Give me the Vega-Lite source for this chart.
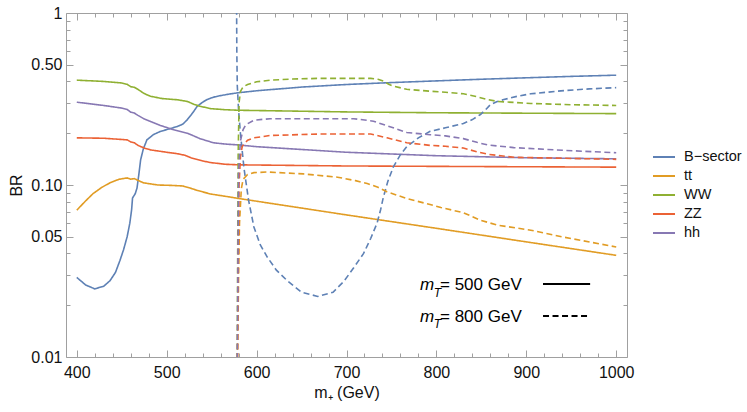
{
  "$schema": "https://vega.github.io/schema/vega-lite/v6.json",
  "width": 561,
  "height": 344,
  "autosize": {"type": "none"},
  "padding": {"left": 66, "top": 13, "right": 120, "bottom": 55},
  "background": "white",
  "config": {
    "font": "Liberation Sans",
    "view": {"stroke": "#a0a0a0", "strokeWidth": 1},
    "axis": {"grid": false, "domain": false, "labelFontSize": 16, "labelColor": "#111111", "titleFontSize": 16, "titleFontWeight": "normal", "titleColor": "#111111", "tickColor": "#a0a0a0", "tickSize": -7, "tickWidth": 1, "labelOverlap": false}
  },
  "datasets": {
    "curves": [
      {"s":"B−sector","m":"500","x":400,"y":0.029},{"s":"B−sector","m":"500","x":410,"y":0.0262},{"s":"B−sector","m":"500","x":420,"y":0.0249},{"s":"B−sector","m":"500","x":430,"y":0.0258},{"s":"B−sector","m":"500","x":437,"y":0.0278},{"s":"B−sector","m":"500","x":443,"y":0.031},{"s":"B−sector","m":"500","x":448,"y":0.0364},{"s":"B−sector","m":"500","x":452,"y":0.042},{"s":"B−sector","m":"500","x":456,"y":0.05},{"s":"B−sector","m":"500","x":459,"y":0.06},{"s":"B−sector","m":"500","x":461,"y":0.072},{"s":"B−sector","m":"500","x":462,"y":0.084},{"s":"B−sector","m":"500","x":465,"y":0.089},{"s":"B−sector","m":"500","x":467,"y":0.096},{"s":"B−sector","m":"500","x":469,"y":0.115},{"s":"B−sector","m":"500","x":471,"y":0.14},{"s":"B−sector","m":"500","x":474,"y":0.162},{"s":"B−sector","m":"500","x":478,"y":0.183},{"s":"B−sector","m":"500","x":485,"y":0.196},{"s":"B−sector","m":"500","x":493,"y":0.205},{"s":"B−sector","m":"500","x":503,"y":0.212},{"s":"B−sector","m":"500","x":512,"y":0.219},{"s":"B−sector","m":"500","x":518,"y":0.226},{"s":"B−sector","m":"500","x":523,"y":0.24},{"s":"B−sector","m":"500","x":529,"y":0.263},{"s":"B−sector","m":"500","x":534,"y":0.287},{"s":"B−sector","m":"500","x":540,"y":0.303},{"s":"B−sector","m":"500","x":545,"y":0.314},{"s":"B−sector","m":"500","x":552,"y":0.324},{"s":"B−sector","m":"500","x":560,"y":0.331},{"s":"B−sector","m":"500","x":570,"y":0.338},{"s":"B−sector","m":"500","x":580,"y":0.344},{"s":"B−sector","m":"500","x":600,"y":0.353},{"s":"B−sector","m":"500","x":650,"y":0.371},{"s":"B−sector","m":"500","x":700,"y":0.384},{"s":"B−sector","m":"500","x":750,"y":0.394},{"s":"B−sector","m":"500","x":800,"y":0.403},{"s":"B−sector","m":"500","x":850,"y":0.412},{"s":"B−sector","m":"500","x":900,"y":0.42},{"s":"B−sector","m":"500","x":950,"y":0.428},{"s":"B−sector","m":"500","x":1000,"y":0.435},

      {"s":"tt","m":"500","x":400,"y":0.0714},{"s":"tt","m":"500","x":410,"y":0.081},{"s":"tt","m":"500","x":418,"y":0.089},{"s":"tt","m":"500","x":428,"y":0.097},{"s":"tt","m":"500","x":437,"y":0.103},{"s":"tt","m":"500","x":447,"y":0.108},{"s":"tt","m":"500","x":456,"y":0.11},{"s":"tt","m":"500","x":460,"y":0.108},{"s":"tt","m":"500","x":464,"y":0.109},{"s":"tt","m":"500","x":467,"y":0.107},{"s":"tt","m":"500","x":474,"y":0.103},{"s":"tt","m":"500","x":490,"y":0.1},{"s":"tt","m":"500","x":505,"y":0.0995},{"s":"tt","m":"500","x":518,"y":0.0987},{"s":"tt","m":"500","x":526,"y":0.096},{"s":"tt","m":"500","x":534,"y":0.093},{"s":"tt","m":"500","x":549,"y":0.0886},{"s":"tt","m":"500","x":565,"y":0.086},{"s":"tt","m":"500","x":580,"y":0.0835},{"s":"tt","m":"500","x":700,"y":0.067},{"s":"tt","m":"500","x":800,"y":0.056},{"s":"tt","m":"500","x":900,"y":0.0467},{"s":"tt","m":"500","x":1000,"y":0.039},

      {"s":"WW","m":"500","x":400,"y":0.407},{"s":"WW","m":"500","x":430,"y":0.4},{"s":"WW","m":"500","x":450,"y":0.392},{"s":"WW","m":"500","x":456,"y":0.385},{"s":"WW","m":"500","x":460,"y":0.373},{"s":"WW","m":"500","x":464,"y":0.37},{"s":"WW","m":"500","x":468,"y":0.36},{"s":"WW","m":"500","x":475,"y":0.34},{"s":"WW","m":"500","x":482,"y":0.328},{"s":"WW","m":"500","x":495,"y":0.318},{"s":"WW","m":"500","x":512,"y":0.313},{"s":"WW","m":"500","x":523,"y":0.306},{"s":"WW","m":"500","x":530,"y":0.295},{"s":"WW","m":"500","x":537,"y":0.287},{"s":"WW","m":"500","x":549,"y":0.278},{"s":"WW","m":"500","x":565,"y":0.274},{"s":"WW","m":"500","x":580,"y":0.272},{"s":"WW","m":"500","x":700,"y":0.266},{"s":"WW","m":"500","x":800,"y":0.263},{"s":"WW","m":"500","x":1000,"y":0.26},

      {"s":"ZZ","m":"500","x":400,"y":0.188},{"s":"ZZ","m":"500","x":430,"y":0.187},{"s":"ZZ","m":"500","x":456,"y":0.183},{"s":"ZZ","m":"500","x":460,"y":0.178},{"s":"ZZ","m":"500","x":464,"y":0.176},{"s":"ZZ","m":"500","x":468,"y":0.17},{"s":"ZZ","m":"500","x":475,"y":0.164},{"s":"ZZ","m":"500","x":482,"y":0.16},{"s":"ZZ","m":"500","x":500,"y":0.155},{"s":"ZZ","m":"500","x":512,"y":0.152},{"s":"ZZ","m":"500","x":520,"y":0.149},{"s":"ZZ","m":"500","x":527,"y":0.144},{"s":"ZZ","m":"500","x":540,"y":0.138},{"s":"ZZ","m":"500","x":549,"y":0.135},{"s":"ZZ","m":"500","x":565,"y":0.132},{"s":"ZZ","m":"500","x":580,"y":0.131},{"s":"ZZ","m":"500","x":700,"y":0.129},{"s":"ZZ","m":"500","x":1000,"y":0.127},

      {"s":"hh","m":"500","x":400,"y":0.303},{"s":"hh","m":"500","x":430,"y":0.29},{"s":"hh","m":"500","x":450,"y":0.28},{"s":"hh","m":"500","x":456,"y":0.275},{"s":"hh","m":"500","x":460,"y":0.265},{"s":"hh","m":"500","x":464,"y":0.262},{"s":"hh","m":"500","x":468,"y":0.254},{"s":"hh","m":"500","x":475,"y":0.242},{"s":"hh","m":"500","x":493,"y":0.222},{"s":"hh","m":"500","x":507,"y":0.21},{"s":"hh","m":"500","x":523,"y":0.2},{"s":"hh","m":"500","x":530,"y":0.193},{"s":"hh","m":"500","x":537,"y":0.186},{"s":"hh","m":"500","x":552,"y":0.176},{"s":"hh","m":"500","x":565,"y":0.173},{"s":"hh","m":"500","x":580,"y":0.171},{"s":"hh","m":"500","x":600,"y":0.167},{"s":"hh","m":"500","x":700,"y":0.155},{"s":"hh","m":"500","x":800,"y":0.148},{"s":"hh","m":"500","x":900,"y":0.144},{"s":"hh","m":"500","x":1000,"y":0.142},

      {"s":"B−sector","m":"800","x":577.5,"y":2.0},{"s":"B−sector","m":"800","x":578,"y":0.6},{"s":"B−sector","m":"800","x":578.5,"y":0.38},{"s":"B−sector","m":"800","x":580,"y":0.27},{"s":"B−sector","m":"800","x":582,"y":0.2},{"s":"B−sector","m":"800","x":586,"y":0.125},{"s":"B−sector","m":"800","x":591,"y":0.082},{"s":"B−sector","m":"800","x":597,"y":0.057},{"s":"B−sector","m":"800","x":604,"y":0.045},{"s":"B−sector","m":"800","x":612,"y":0.038},{"s":"B−sector","m":"800","x":622,"y":0.032},{"s":"B−sector","m":"800","x":634,"y":0.0278},{"s":"B−sector","m":"800","x":650,"y":0.0238},{"s":"B−sector","m":"800","x":668,"y":0.0225},{"s":"B−sector","m":"800","x":685,"y":0.0238},{"s":"B−sector","m":"800","x":697,"y":0.0275},{"s":"B−sector","m":"800","x":708,"y":0.033},{"s":"B−sector","m":"800","x":719,"y":0.04},{"s":"B−sector","m":"800","x":727,"y":0.049},{"s":"B−sector","m":"800","x":734,"y":0.06},{"s":"B−sector","m":"800","x":738,"y":0.072},{"s":"B−sector","m":"800","x":741,"y":0.085},{"s":"B−sector","m":"800","x":746,"y":0.105},{"s":"B−sector","m":"800","x":752,"y":0.127},{"s":"B−sector","m":"800","x":760,"y":0.15},{"s":"B−sector","m":"800","x":767,"y":0.167},{"s":"B−sector","m":"800","x":780,"y":0.188},{"s":"B−sector","m":"800","x":793,"y":0.205},{"s":"B−sector","m":"800","x":810,"y":0.215},{"s":"B−sector","m":"800","x":830,"y":0.228},{"s":"B−sector","m":"800","x":840,"y":0.24},{"s":"B−sector","m":"800","x":849,"y":0.257},{"s":"B−sector","m":"800","x":855,"y":0.275},{"s":"B−sector","m":"800","x":860,"y":0.293},{"s":"B−sector","m":"800","x":867,"y":0.305},{"s":"B−sector","m":"800","x":875,"y":0.314},{"s":"B−sector","m":"800","x":890,"y":0.328},{"s":"B−sector","m":"800","x":905,"y":0.339},{"s":"B−sector","m":"800","x":942,"y":0.354},{"s":"B−sector","m":"800","x":970,"y":0.362},{"s":"B−sector","m":"800","x":1000,"y":0.368},

      {"s":"tt","m":"800","x":578,"y":0.004},{"s":"tt","m":"800","x":580,"y":0.03},{"s":"tt","m":"800","x":581,"y":0.06},{"s":"tt","m":"800","x":583,"y":0.095},{"s":"tt","m":"800","x":585,"y":0.108},{"s":"tt","m":"800","x":590,"y":0.115},{"s":"tt","m":"800","x":597,"y":0.118},{"s":"tt","m":"800","x":612,"y":0.119},{"s":"tt","m":"800","x":652,"y":0.116},{"s":"tt","m":"800","x":690,"y":0.111},{"s":"tt","m":"800","x":710,"y":0.106},{"s":"tt","m":"800","x":723,"y":0.102},{"s":"tt","m":"800","x":735,"y":0.097},{"s":"tt","m":"800","x":745,"y":0.0913},{"s":"tt","m":"800","x":767,"y":0.0834},{"s":"tt","m":"800","x":793,"y":0.077},{"s":"tt","m":"800","x":805,"y":0.074},{"s":"tt","m":"800","x":830,"y":0.069},{"s":"tt","m":"800","x":849,"y":0.0624},{"s":"tt","m":"800","x":868,"y":0.0584},{"s":"tt","m":"800","x":905,"y":0.0546},{"s":"tt","m":"800","x":942,"y":0.0497},{"s":"tt","m":"800","x":1000,"y":0.0436},

      {"s":"WW","m":"800","x":578,"y":0.004},{"s":"WW","m":"800","x":579.5,"y":0.15},{"s":"WW","m":"800","x":580.5,"y":0.3},{"s":"WW","m":"800","x":582,"y":0.35},{"s":"WW","m":"800","x":585,"y":0.372},{"s":"WW","m":"800","x":590,"y":0.384},{"s":"WW","m":"800","x":600,"y":0.398},{"s":"WW","m":"800","x":615,"y":0.407},{"s":"WW","m":"800","x":640,"y":0.413},{"s":"WW","m":"800","x":671,"y":0.417},{"s":"WW","m":"800","x":727,"y":0.417},{"s":"WW","m":"800","x":735,"y":0.412},{"s":"WW","m":"800","x":741,"y":0.402},{"s":"WW","m":"800","x":747,"y":0.385},{"s":"WW","m":"800","x":752,"y":0.376},{"s":"WW","m":"800","x":767,"y":0.36},{"s":"WW","m":"800","x":793,"y":0.351},{"s":"WW","m":"800","x":810,"y":0.346},{"s":"WW","m":"800","x":830,"y":0.339},{"s":"WW","m":"800","x":845,"y":0.326},{"s":"WW","m":"800","x":857,"y":0.314},{"s":"WW","m":"800","x":868,"y":0.306},{"s":"WW","m":"800","x":905,"y":0.298},{"s":"WW","m":"800","x":950,"y":0.293},{"s":"WW","m":"800","x":1000,"y":0.29},

      {"s":"ZZ","m":"800","x":578,"y":0.004},{"s":"ZZ","m":"800","x":580.5,"y":0.1},{"s":"ZZ","m":"800","x":582,"y":0.145},{"s":"ZZ","m":"800","x":584,"y":0.168},{"s":"ZZ","m":"800","x":590,"y":0.182},{"s":"ZZ","m":"800","x":597,"y":0.188},{"s":"ZZ","m":"800","x":615,"y":0.194},{"s":"ZZ","m":"800","x":671,"y":0.198},{"s":"ZZ","m":"800","x":727,"y":0.198},{"s":"ZZ","m":"800","x":745,"y":0.188},{"s":"ZZ","m":"800","x":767,"y":0.176},{"s":"ZZ","m":"800","x":793,"y":0.17},{"s":"ZZ","m":"800","x":810,"y":0.168},{"s":"ZZ","m":"800","x":830,"y":0.164},{"s":"ZZ","m":"800","x":845,"y":0.156},{"s":"ZZ","m":"800","x":857,"y":0.151},{"s":"ZZ","m":"800","x":886,"y":0.145},{"s":"ZZ","m":"800","x":942,"y":0.143},{"s":"ZZ","m":"800","x":1000,"y":0.141},

      {"s":"hh","m":"800","x":578,"y":0.004},{"s":"hh","m":"800","x":580,"y":0.12},{"s":"hh","m":"800","x":582,"y":0.18},{"s":"hh","m":"800","x":585,"y":0.21},{"s":"hh","m":"800","x":588,"y":0.224},{"s":"hh","m":"800","x":597,"y":0.238},{"s":"hh","m":"800","x":615,"y":0.243},{"s":"hh","m":"800","x":708,"y":0.243},{"s":"hh","m":"800","x":730,"y":0.235},{"s":"hh","m":"800","x":752,"y":0.215},{"s":"hh","m":"800","x":767,"y":0.202},{"s":"hh","m":"800","x":793,"y":0.196},{"s":"hh","m":"800","x":810,"y":0.193},{"s":"hh","m":"800","x":830,"y":0.186},{"s":"hh","m":"800","x":845,"y":0.177},{"s":"hh","m":"800","x":857,"y":0.171},{"s":"hh","m":"800","x":886,"y":0.165},{"s":"hh","m":"800","x":942,"y":0.159},{"s":"hh","m":"800","x":1000,"y":0.154}
    ],
    "key": [
      {"m": "500", "label": "= 500 GeV", "y": 0.0245},
      {"m": "800", "label": "= 800 GeV", "y": 0.016}
    ]
  },
  "resolve": {"axis": {"x": "independent", "y": "independent"}, "scale": {"x": "shared", "y": "shared"}},
  "layer": [
    {
      "data": {"name": "curves"},
      "mark": {"type": "line", "clip": true, "strokeWidth": 1.6},
      "encoding": {
        "x": {
          "field": "x", "type": "quantitative",
          "scale": {"domain": [388, 1012], "nice": false, "zero": false},
          "axis": {
            "orient": "bottom",
            "values": [400,500,600,700,800,900,1000],
            "format": "d",
            "labelFlush": false,
            "labelPadding": 14,
            "title": "m₊ (GeV)",
            "titlePadding": 4
          }
        },
        "y": {
          "field": "y", "type": "quantitative",
          "scale": {"type": "log", "domain": [0.01, 1], "nice": false},
          "axis": {
            "orient": "left",
            "values": [0.01,0.05,0.1,0.5,1],
            "labelExpr": "datum.value === 1 ? '1' : format(datum.value, '.2f')",
            "labelPadding": 11,
            "title": "BR",
            "titlePadding": 6
          }
        },
        "color": {
          "field": "s", "type": "nominal",
          "scale": {"domain": ["B−sector", "tt", "WW", "ZZ", "hh"], "range": ["#5E81B5", "#E19C24", "#8FB032", "#EB6235", "#8778B3"]},
          "legend": {
            "orient": "none", "legendX": 586, "legendY": 132, "title": null,
            "symbolType": "stroke", "symbolSize": 484, "symbolStrokeWidth": 2,
            "labelFontSize": 14.5, "labelOffset": 8, "labelColor": "#111111",
            "rowPadding": 0, "padding": 0
          }
        },
        "strokeDash": {
          "field": "m", "type": "nominal",
          "scale": {"domain": ["500", "800"], "range": [[1, 0], [6, 3.5]]},
          "legend": null
        }
      }
    },
    {
      "data": {"name": "key"},
      "mark": {"type": "rule", "strokeWidth": 2, "color": "black", "yOffset": -6},
      "encoding": {
        "x": {
          "datum": 918.6, "type": "quantitative",
          "axis": {"orient": "top", "labels": false, "title": null, "values": [400,500,600,700,800,900,1000]}
        },
        "x2": {"datum": 971},
        "y": {
          "field": "y", "type": "quantitative",
          "axis": {"orient": "right", "labels": false, "title": null, "values": [0.01,0.05,0.1,0.5,1]}
        },
        "strokeDash": {"field": "m", "type": "nominal", "legend": null}
      }
    },
    {
      "data": {"name": "key"},
      "mark": {"type": "text", "fontStyle": "italic", "fontSize": 17, "align": "left", "baseline": "alphabetic", "color": "black"},
      "encoding": {
        "x": {
          "datum": 781.8, "type": "quantitative",
          "axis": {"orient": "bottom", "labels": false, "title": null, "tickSize": -4, "values": [420,440,460,480,520,540,560,580,620,640,660,680,720,740,760,780,820,840,860,880,920,940,960,980]}
        },
        "y": {
          "field": "y", "type": "quantitative",
          "axis": {"orient": "left", "labels": false, "title": null, "tickSize": -4, "values": [0.02,0.03,0.04,0.06,0.07,0.08,0.09,0.2,0.3,0.4,0.6,0.7,0.8,0.9]}
        },
        "text": {"value": "m"}
      }
    },
    {
      "data": {"name": "key"},
      "mark": {"type": "text", "fontStyle": "italic", "fontSize": 12, "align": "left", "baseline": "alphabetic", "color": "black", "dy": 6.5},
      "encoding": {
        "x": {
          "datum": 797, "type": "quantitative",
          "axis": {"orient": "top", "labels": false, "title": null, "tickSize": -4, "values": [420,440,460,480,520,540,560,580,620,640,660,680,720,740,760,780,820,840,860,880,920,940,960,980]}
        },
        "y": {
          "field": "y", "type": "quantitative",
          "axis": {"orient": "right", "labels": false, "title": null, "tickSize": -4, "values": [0.02,0.03,0.04,0.06,0.07,0.08,0.09,0.2,0.3,0.4,0.6,0.7,0.8,0.9]}
        },
        "text": {"value": "T"}
      }
    },
    {
      "data": {"name": "key"},
      "mark": {"type": "text", "fontSize": 17, "align": "left", "baseline": "alphabetic", "color": "black"},
      "encoding": {
        "x": {"datum": 804, "type": "quantitative", "axis": null},
        "y": {"field": "y", "type": "quantitative", "axis": null},
        "text": {"field": "label"}
      }
    }
  ]
}
